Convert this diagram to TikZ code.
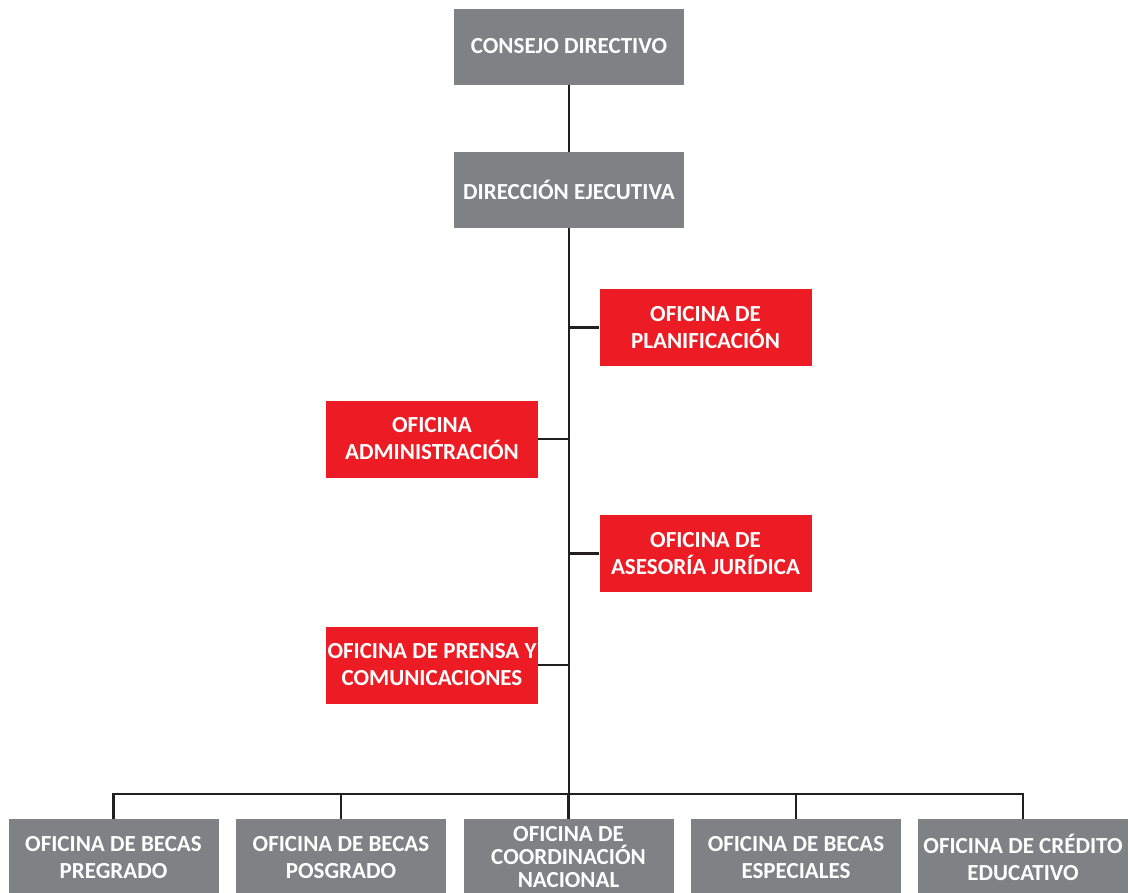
\documentclass[tikz,border=0pt]{standalone}
\usepackage{fontspec}
\setmainfont{Carlito}
\usetikzlibrary{positioning}
\definecolor{grisbox}{HTML}{808184}
\definecolor{rojobox}{HTML}{ED1C24}
\definecolor{linea}{HTML}{231F20}
\tikzset{
  caja/.style={fill=grisbox, text=white, font=\bfseries\fontsize{23}{27}\selectfont,
    align=center, inner sep=0pt, minimum width=230pt, minimum height=76pt},
  ofi/.style={caja, fill=rojobox, minimum width=212pt, minimum height=77pt},
  base/.style={caja, minimum width=210pt, minimum height=77pt},
  enlace/.style={draw=linea, line width=2.5pt}
}

\begin{document}
\begin{tikzpicture}[x=1pt,y=-1pt]
	\useasboundingbox (0,0) rectangle (1130,892);
	% direccion
	\node[caja] (consejo) at (569,46.5) {CONSEJO DIRECTIVO};
	\node[caja] (direccion) at (569,190) {DIRECCIÓN EJECUTIVA};
	\coordinate (bus) at (569,794);
	\draw[enlace] (consejo) -- (direccion);
	\draw[enlace] (direccion) -- (bus);
	% oficinas de apoyo
	\node[ofi] (planif) at (705.5,327.5) {OFICINA DE\\PLANIFICACIÓN};
	\node[ofi] (admin) at (432,439) {OFICINA\\ADMINISTRACIÓN};
	\node[ofi] (juridica) at (705.5,553.5) {OFICINA DE\\ASESORÍA JURÍDICA};
	\node[ofi] (prensa) at (432,665) {OFICINA DE PRENSA Y\\COMUNICACIONES};
	\foreach \o in {planif,juridica}
		\draw[enlace] (\o.west) -- (\o.west -| bus);
	\foreach \o in {admin,prensa}
		\draw[enlace] (\o.east) -- (\o.east -| bus);
	% oficinas de linea
	\node[base] (pregrado) at (113.5,857.5) {OFICINA DE BECAS\\PREGRADO};
	\node[base] (posgrado) at (341,857.5) {OFICINA DE BECAS\\POSGRADO};
	\node[base, font=\bfseries\fontsize{23}{23}\selectfont] (coordina) at (568.5,857.5) {OFICINA DE\\COORDINACIÓN\\NACIONAL};
	\node[base] (especiales) at (796,857.5) {OFICINA DE BECAS\\ESPECIALES};
	\node[base] (credito) at (1023,857.5) {OFICINA DE CRÉDITO\\EDUCATIVO};
	\draw[enlace] (pregrado.north) |- (bus) -| (credito.north);
	\foreach \o in {posgrado,coordina,especiales}
		\draw[enlace] (\o.north) -- (\o.north |- bus);
\end{tikzpicture}
\end{document}
